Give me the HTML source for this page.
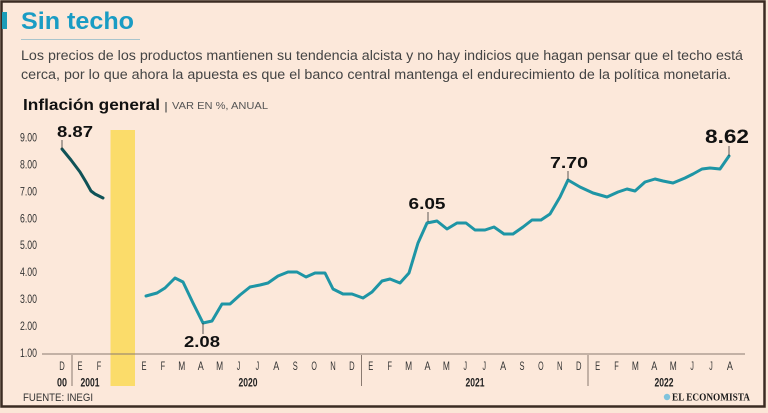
<!DOCTYPE html>
<html><head><meta charset="utf-8"><style>
html,body{margin:0;padding:0;background:#fbe6d7;}
svg{display:block;}
</style></head><body>
<svg width="768" height="413" viewBox="0 0 768 413" xmlns="http://www.w3.org/2000/svg">
<rect x="0" y="0" width="768" height="413" fill="#fbe6d7"/>
<rect x="1.5" y="1.5" width="763" height="405" fill="#fce8da" stroke="#3b2b22" stroke-width="2.5"/>
<rect x="2" y="12" width="5" height="17" fill="#1a9cb8"/>
<text x="21" y="29" font-family="Liberation Sans, sans-serif" font-weight="bold" font-size="24" fill="#1a9cc4" textLength="113" lengthAdjust="spacingAndGlyphs">Sin techo</text>
<line x1="21" y1="39.5" x2="140" y2="39.5" stroke="#a9c4cc" stroke-width="1"/>
<text x="21" y="60" font-family="Liberation Sans, sans-serif" font-size="13.5" fill="#444" textLength="722" lengthAdjust="spacingAndGlyphs">Los precios de los productos mantienen su tendencia alcista y no hay indicios que hagan pensar que el techo está</text>
<text x="21" y="79" font-family="Liberation Sans, sans-serif" font-size="13.5" fill="#444" textLength="710" lengthAdjust="spacingAndGlyphs">cerca, por lo que ahora la apuesta es que el banco central mantenga el endurecimiento de la política monetaria.</text>
<text x="23" y="110" font-family="Liberation Sans, sans-serif" font-weight="bold" font-size="16" fill="#111" textLength="137" lengthAdjust="spacingAndGlyphs">Inflación general</text>
<text x="164" y="110" font-family="Liberation Sans, sans-serif" font-size="11" fill="#555" textLength="4" lengthAdjust="spacingAndGlyphs">|</text>
<text x="172" y="109" font-family="Liberation Sans, sans-serif" font-size="10.5" fill="#555" textLength="96" lengthAdjust="spacingAndGlyphs">VAR EN %, ANUAL</text>

<!-- yellow bar -->
<rect x="110.5" y="130" width="24.5" height="256" fill="#fbdc6a"/>

<!-- axis -->
<line x1="42" y1="354" x2="745" y2="354" stroke="#8a7a70" stroke-width="1"/>
<g stroke="#8a7a70" stroke-width="1">
<line x1="72" y1="355" x2="72" y2="386"/>
<line x1="361.5" y1="355" x2="361.5" y2="386"/>
<line x1="588" y1="355" x2="588" y2="386"/>
</g>

<!-- y labels -->
<g font-family="Liberation Sans, sans-serif" font-size="11.5" fill="#333" text-anchor="end">
<text x="37" y="141.5" textLength="17" lengthAdjust="spacingAndGlyphs">9.00</text>
<text x="37" y="168.4" textLength="17" lengthAdjust="spacingAndGlyphs">8.00</text>
<text x="37" y="195.3" textLength="17" lengthAdjust="spacingAndGlyphs">7.00</text>
<text x="37" y="222.3" textLength="17" lengthAdjust="spacingAndGlyphs">6.00</text>
<text x="37" y="249.2" textLength="17" lengthAdjust="spacingAndGlyphs">5.00</text>
<text x="37" y="276.1" textLength="17" lengthAdjust="spacingAndGlyphs">4.00</text>
<text x="37" y="303" textLength="17" lengthAdjust="spacingAndGlyphs">3.00</text>
<text x="37" y="330" textLength="17" lengthAdjust="spacingAndGlyphs">2.00</text>
<text x="37" y="357" textLength="17" lengthAdjust="spacingAndGlyphs">1.00</text>
</g>

<!-- month labels (condensed) -->
<g font-family="Liberation Sans, sans-serif" font-size="11.5" fill="#333" text-anchor="middle" lengthAdjust="spacingAndGlyphs">
<text x="62" y="370" textLength="5.5" lengthAdjust="spacingAndGlyphs">D</text><text x="80" y="370" textLength="5" lengthAdjust="spacingAndGlyphs">E</text><text x="99" y="370" textLength="4.5" lengthAdjust="spacingAndGlyphs">F</text>
<text x="144" y="370" textLength="5" lengthAdjust="spacingAndGlyphs">E</text><text x="162.9" y="370" textLength="4.5" lengthAdjust="spacingAndGlyphs">F</text><text x="181.8" y="370" textLength="7" lengthAdjust="spacingAndGlyphs">M</text><text x="200.7" y="370" textLength="6" lengthAdjust="spacingAndGlyphs">A</text><text x="219.6" y="370" textLength="7" lengthAdjust="spacingAndGlyphs">M</text><text x="238.5" y="370" textLength="3.5" lengthAdjust="spacingAndGlyphs">J</text><text x="257.4" y="370" textLength="3.5" lengthAdjust="spacingAndGlyphs">J</text><text x="276.3" y="370" textLength="6" lengthAdjust="spacingAndGlyphs">A</text><text x="295.2" y="370" textLength="5" lengthAdjust="spacingAndGlyphs">S</text><text x="314.1" y="370" textLength="5.5" lengthAdjust="spacingAndGlyphs">O</text><text x="333" y="370" textLength="5.5" lengthAdjust="spacingAndGlyphs">N</text><text x="351.9" y="370" textLength="5.5" lengthAdjust="spacingAndGlyphs">D</text>
<text x="370.8" y="370" textLength="5" lengthAdjust="spacingAndGlyphs">E</text><text x="389.7" y="370" textLength="4.5" lengthAdjust="spacingAndGlyphs">F</text><text x="408.6" y="370" textLength="7" lengthAdjust="spacingAndGlyphs">M</text><text x="427.5" y="370" textLength="6" lengthAdjust="spacingAndGlyphs">A</text><text x="446.4" y="370" textLength="7" lengthAdjust="spacingAndGlyphs">M</text><text x="465.3" y="370" textLength="3.5" lengthAdjust="spacingAndGlyphs">J</text><text x="484.2" y="370" textLength="3.5" lengthAdjust="spacingAndGlyphs">J</text><text x="503.1" y="370" textLength="6" lengthAdjust="spacingAndGlyphs">A</text><text x="522" y="370" textLength="5" lengthAdjust="spacingAndGlyphs">S</text><text x="540.9" y="370" textLength="5.5" lengthAdjust="spacingAndGlyphs">O</text><text x="559.8" y="370" textLength="5.5" lengthAdjust="spacingAndGlyphs">N</text><text x="578.7" y="370" textLength="5.5" lengthAdjust="spacingAndGlyphs">D</text>
<text x="597.6" y="370" textLength="5" lengthAdjust="spacingAndGlyphs">E</text><text x="616.5" y="370" textLength="4.5" lengthAdjust="spacingAndGlyphs">F</text><text x="635.4" y="370" textLength="7" lengthAdjust="spacingAndGlyphs">M</text><text x="654.3" y="370" textLength="6" lengthAdjust="spacingAndGlyphs">A</text><text x="673.2" y="370" textLength="7" lengthAdjust="spacingAndGlyphs">M</text><text x="692.1" y="370" textLength="3.5" lengthAdjust="spacingAndGlyphs">J</text><text x="711" y="370" textLength="3.5" lengthAdjust="spacingAndGlyphs">J</text><text x="729.9" y="370" textLength="6" lengthAdjust="spacingAndGlyphs">A</text>
</g>
<g font-family="Liberation Sans, sans-serif" font-size="11.5" font-weight="bold" fill="#222" text-anchor="middle">
<text x="62" y="386.5" textLength="10" lengthAdjust="spacingAndGlyphs">00</text>
<text x="90" y="386.5" textLength="19" lengthAdjust="spacingAndGlyphs">2001</text>
<text x="248" y="386.5" textLength="19" lengthAdjust="spacingAndGlyphs">2020</text>
<text x="475" y="386.5" textLength="19" lengthAdjust="spacingAndGlyphs">2021</text>
<text x="664" y="386.5" textLength="19" lengthAdjust="spacingAndGlyphs">2022</text>
</g>

<!-- series -->
<polyline fill="none" stroke="#0f5257" stroke-width="3" stroke-linejoin="round" stroke-linecap="round"
 points="62,149 71,160 80,172 86,182 91,191 95,194 103,198"/>
<polyline fill="none" stroke="#1e95a5" stroke-width="3" stroke-linejoin="round" stroke-linecap="round"
 points="146,296 157,293 165,288 175,278 183,282 193,303 203,323 212,321 222,304 230,304 240,295 250,287 260,285 268,283 278,276 288,272 297,272 306,277 315,273 325,273 333,289 343,294 352,294 363,298 372,292 382,281 390,279 400,283 409,273 418,243 427,223 437,221 447,229 457,223 466,223 475,230 485,230 494,227 504,234 513,234 523,227 532,220 541,220 550,214 560,197 568,180 580,187 593,193 607,197 618,192 627,189 635,191 645,182 655,179 663,181 673,183 685,178 693,174 702,169 710,168 720,169 729,156"/>

<!-- callouts -->
<g stroke="#333" stroke-width="0.8">
<line x1="62" y1="140" x2="62" y2="149"/>
<line x1="203" y1="323" x2="203" y2="334"/>
<line x1="428" y1="212" x2="428" y2="222"/>
<line x1="568" y1="171" x2="568" y2="180"/>
<line x1="729" y1="146" x2="729" y2="156"/>
</g>
<g font-family="Liberation Sans, sans-serif" font-weight="bold" fill="#111" text-anchor="middle">
<text x="75" y="137" font-size="15.5" textLength="36" lengthAdjust="spacingAndGlyphs">8.87</text>
<text x="202" y="347" font-size="15.5" textLength="36" lengthAdjust="spacingAndGlyphs">2.08</text>
<text x="427" y="209" font-size="15.5" textLength="37" lengthAdjust="spacingAndGlyphs">6.05</text>
<text x="569" y="168" font-size="15.5" textLength="38" lengthAdjust="spacingAndGlyphs">7.70</text>
<text x="727" y="143" font-size="19" textLength="44" lengthAdjust="spacingAndGlyphs">8.62</text>
</g>

<text x="23" y="401" font-family="Liberation Sans, sans-serif" font-size="11" fill="#333" textLength="70" lengthAdjust="spacingAndGlyphs">FUENTE: INEGI</text>
<circle cx="667" cy="397" r="3.2" fill="#7fc3dc"/>
<text x="672" y="400.5" font-family="Liberation Serif, serif" font-weight="bold" font-size="10.5" fill="#1a1a1a" textLength="78" lengthAdjust="spacingAndGlyphs">EL ECONOMISTA</text>
</svg>
</body></html>
